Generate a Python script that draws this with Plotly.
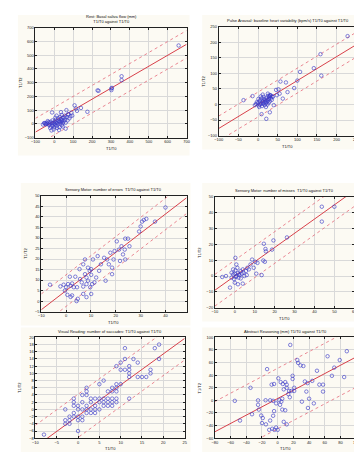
import plotly.graph_objects as go

# ---------------- data ----------------
titles = [
    "Rest: Basal saliva flow (mm)<br>T1/T0 against T1/T0",
    "Pulse Arousal: baseline heart variability (bpm/s) T1/T0 against T1/T0",
    "Sensory Motor: number of errors  T1/T0 against T1/T0",
    "Sensory Motor: number of misses  T1/T0 against T1/T0",
    "Visual Reading: number of saccades: T1/T0 against T1/T0",
    "Abstract Reasoning (mm) T1/T0 against T1/T0",
]
x_titles = ["T1/T0"] * 6
y_titles = ["T1/T2"] * 6

p1_x = [658, 356, 356, 302, 302, 305, 234, 229, 175, 141, 115, 107, 64, 73, 56, 39, -12, -15, -3, -54, -46, 39,
        -50, -45, -40, -35, -30, -28, -25, -20, -18, -12, -10, -8, -5, 0, 2, 5, 8, 10, 12, 15, 18, 20, 22, 25,
        28, 30, 32, 35, 38, 40, 42, 45, 48, 50, 55, 58, 60, 65, 70, 75, 80, 85, 90, -60, -22, 5, 15, 25, 0,
        -10, 30, 45, 60, -35, 12, 35, 120, 95]
p1_y = [571, 347, 319, 258, 246, 262, 241, 244, 88, 116, 112, 135, 100, 69, 46, 65, 83, -48, -41, 6, 0, 22,
        5, -3, 8, 0, 12, -8, 3, 15, -20, 5, 25, -10, 8, 0, 18, -5, 30, 10, -15, 5, 22, -2, 40, 12,
        -25, 20, 2, 35, 15, -10, 28, 5, 45, 18, 60, 30, 8, 48, 25, 70, 40, 55, 80, -5, -30, 45, -30, -45, -25,
        -15, 50, -20, -35, 20, 60, 85, 95, 60]

p2_x = [228, 159, 161, 142, 107, 100, 92, 71, 57, 52, 46, 63, -37, -14, 9, 21, 30, 40, 75, 55, 48, 38,
        0, 2, 4, 5, 6, 8, 9, 10, 11, 12, 13, 14, 15, 16, 17, 18, 19, 20, 21, 22, 23, 24, 25, 26, 27, 28,
        29, 30, 32, 33, 35, 36, -5, -3, 1, 7, -8, 3, 12, 20, 25, 30, 31, 29]
p2_y = [220, 162, 93, 117, 105, 77, 53, 71, 74, 49, 47, 19, 14, 27, -31, -46, -25, -2, 40, 35, 30, 25,
        5, -3, 10, 0, 15, 3, 20, -5, 8, 12, 2, 25, 6, 18, -2, 10, 14, 4, 22, 8, 16, 0, 12, 28, 6, 18,
        24, 10, 30, 20, 15, 26, 2, 8, 18, 26, -2, -8, 32, -8, 35, 30, 28, 26]

p3_x = [-6.5, -2.3, -1.0, 0.0, 0.8, 1.5, 1.8, 2.4, 3.1, 3.7, 0.5, 2.4, 4.4, 4.7, 5.6, 6.3, 6.9, 5.4, 6.9,
        7.6, 7.6, 8.2, 8.2, 8.8, 8.8, 9.5, 9.7, 10.1, 10.5, 10.1, 11.4, 10.8, 12.1, 12.7, 13.3, 14.0, 15.3,
        15.9, 16.5, 17.2, 17.8, 18.5, 19.1, 19.5, 20.4, 21.3, 22.3, 22.9, 23.6, 23.8, 24.9, 25.5, 23.8,
        21.7, 29.4, 30.0, 30.6, 31.3, 32.3, 35.8, 40.0, 6.9, 8.2, 10.1, 18.5, 1.8, -0.5, 4.2]
p3_y = [7.8, 7.0, 7.8, 6.6, 8.1, 11.6, 7.3, 8.4, 6.6, 11.6, 3.0, 2.7, 6.6, 1.1, 10.5, 8.9, 6.9, 15.2, 17.5,
        19.8, 12.8, 11.2, 8.1, 9.7, 15.9, 14.4, 6.6, 12.5, 8.1, 15.2, 8.9, 19.8, 11.2, 21.4, 14.4, 17.5, 20.6,
        9.7, 19.8, 17.5, 23.0, 15.9, 19.8, 23.8, 28.4, 24.5, 26.1, 22.2, 24.5, 29.7, 29.7, 26.1, 19.8,
        19.1, 33.1, 35.5, 37.8, 38.6, 39.1, 37.8, 44.5, 3.4, 1.9, 3.4, 12.8, 2.0, 5.0, 0.0]

p4_x = [43.7, 50.0, 43.7, 26.2, 14.6, 19.4, 15.4, 15.6, 18.7, 14.3, 15.1, 11.4, 13.5, 10.8, 10.3, 7.9, 8.7,
        6.3, 0.3, 0.8, -6.3, -4.4, -1.6, -0.8, -0.3, 0.0, 0.8, 1.6, 1.9, 2.4, 2.9, 3.5, 4.0, 4.4, 4.8, 5.6,
        0.0, 1.6, 4.0, -2.4, 6.0, 7.1, 0.3, 1.3, -1.6, -0.8, 9.5, 3.0, 2.0, 0.5]
p4_y = [43.8, 43.8, 34.4, 24.4, 20.4, 22.5, 17.1, 15.6, 16.7, 9.8, 9.0, 8.3, 0.6, 1.5, 9.0, 7.3, 10.4,
        5.2, 11.5, 7.3, -0.6, 0.0, -1.0, 1.0, -2.0, 1.5, 0.0, 2.0, -1.0, 0.6, 3.1, 1.5, 4.2, 2.1, 0.0, 3.1,
        -4.2, -5.2, -4.8, -7.3, 0.6, 4.2, 3.5, 5.2, 2.1, 4.2, 5.2, -1.5, 1.0, -0.5]

p5_x = [-8, -3, -3, -3, -2, -2, -2, -1, -1, -1, -1, -1, 0, 0, 0, 0, 0, 1, 1, 1, 1, 1, 2, 2, 2, 2, 2, 2,
        3, 3, 3, 3, 4, 4, 4, 4, 5, 5, 5, 5, 6, 6, 6, 6, 7, 7, 7, 7, 8, 8, 8, 8, 8, 9, 9, 9, 9, 9, 9,
        10, 10, 10, 11, 11, 11, 12, 12, 12, 12, 12, 13, 14, 14, 15, 16, 17, 17, 18, 19, 19]
p5_y = [-7, 0, -3, -4, -2, -3, -4, -1, 2, 3, 1, -2, 0, 1, -2, -3, -6, -3, -2, 0, 4, 2, 6, 5, 4, 1, 0, -1,
        3, 2, 0, -1, 3, 1, 0, -1, 3, 2, 0, 7, 8, 3, 1, 2, 5, 3, 2, 1, 6, 5, 3, 2, 1, 6, 5, 3, 2, 7, 12,
        7, 11, 13, 17, 14, 11, 12, 11, 10, 9, 3, 14, 13, 9, 9, 9, 11, 10, 17, 18, 14]

p6_x = [-54.6, -48, -32.7, -25, -25, -24, -34.6, -13.5, -19, -21, -20, -15, -10.8, -7, -4, -2, 0, -9.6,
        -5.8, -4.6, -15.4, -9.6, -5.8, -2, 2, 4.6, 5.8, 3, 5.8, 9.6, 7.7, 11.5, -7.7, -4.6, 3.8, 6.5, 9.6,
        11.5, 11.5, 14.6, 13.5, 16, 19, 19, 17.3, 15.4, 21, 21, 26, 25, 29, 32.7, 34.6, 38, 36.5, 40, 30.8,
        38.5, 44, 50, 46, 53, 57.7, 57.7, 63.5, 69, 72, 79, 84.6, 88, 0.8, 7.7]
p6_y = [-0.7, -32, -22, -7, 0, -14.6, 20, 49.6, -28, -24, -36, -38, -46.7, -45, -46.7, -43, -46.7, -32,
        -24.4, -17, 0.2, 0.2, -0.7, -4.7, 0.2, -2, 2.7, -7, -14.6, -15.6, -34, -38, 25, 26, 29, 26, 29,
        25, 20, 15, 10, 88, 39, 34, 15, 5, 20, 15, 59.5, 64, 55.5, 54.5, 30, 27.4, 14, 2.7, -2,
        -12, 31, 47, -4.7, 25, 25, 14, 70, 39, 52, 64, 37, 78, 35, 17.5]

# fitted regression line and prediction band
fit_slopes = [0.80, 0.77, 0.91, 0.90, 0.86, 0.66]
fit_intercepts = [20, 0, 5, 0, -1.8, 3]
band_halfwidths = [100, 40, 7.5, 10, 6, 48]

x_ranges = [[-100, 700], [-100, 250], [-10, 48.5], [-10, 60], [-10, 25], [-80, 100]]
y_ranges = [[-100, 700], [-100, 250], [-5, 50], [-20, 50], [-8, 20], [-60, 100]]
x_dticks = [100, 50, 10, 10, 5, 20]
y_dticks = [100, 50, 5, 10, 2, 20]

# ---------------- layout geometry (pixels) ----------------
W, H = 362, 452
plot_boxes = [  # left, right, top, bottom in px
    (23, 178, 17, 128),
    (211, 352, 16, 126),
    (29, 178, 187, 304),
    (207, 350, 188, 300),
    (23, 176, 330, 432),
    (207, 352, 330, 432),
]
panel_boxes = [
    (5, 181, 4, 146),
    (194, 362, 4, 140),
    (8, 182, 174, 318),
    (194, 362, 174, 314),
    (8, 182, 320, 452),
    (194, 362, 320, 452),
]

xs_all = [p1_x, p2_x, p3_x, p4_x, p5_x, p6_x]
ys_all = [p1_y, p2_y, p3_y, p4_y, p5_y, p6_y]

fig = go.Figure()
layout = {}
annotations = []
shapes = []

for i in range(6):
    n = "" if i == 0 else str(i + 1)
    xa, ya = "x" + n, "y" + n
    l, r, t, b = plot_boxes[i]
    xd = [l / W, r / W]
    yd = [1 - b / H, 1 - t / H]
    axis_common = dict(
        showline=True, linecolor="#222", linewidth=0.8, mirror="ticks",
        ticks="inside", ticklen=2, tickcolor="#222", tickwidth=0.6,
        showgrid=True, gridcolor="#d9d9d9", gridwidth=0.6, zeroline=False,
        tickfont=dict(size=4, color="#222", family="Liberation Sans"),
    )
    layout["xaxis" + n] = dict(axis_common, domain=xd, range=x_ranges[i], dtick=x_dticks[i],
                               anchor=ya, tick0=0)
    layout["yaxis" + n] = dict(axis_common, domain=yd, range=y_ranges[i], dtick=y_dticks[i],
                               anchor=xa, tick0=0)

    # fit line and prediction band
    x0, x1 = x_ranges[i]
    s, c, h = fit_slopes[i], fit_intercepts[i], band_halfwidths[i]
    for off, dash, w, col in [(h, "dot", 0.8, "#e46a7a"), (-h, "dot", 0.8, "#e46a7a"), (0, "solid", 1.0, "#d8404a")]:
        fig.add_trace(go.Scatter(
            x=[x0, x1], y=[s * x0 + c + off, s * x1 + c + off], mode="lines",
            line=dict(color=col, width=w, dash=dash), xaxis=xa, yaxis=ya,
            showlegend=False, hoverinfo="skip", cliponaxis=True))

    fig.add_trace(go.Scatter(
        x=xs_all[i], y=ys_all[i], mode="markers", xaxis=xa, yaxis=ya, showlegend=False,
        marker=dict(symbol="circle-open", size=3.5, color="rgba(60,60,200,0.8)", line=dict(width=0.8)),
        cliponaxis=True))

    # titles
    annotations.append(dict(
        text=titles[i], xref="paper", yref="paper", x=(xd[0] + xd[1]) / 2, y=yd[1] + 1.5 / H,
        xanchor="center", yanchor="bottom", showarrow=False,
        font=dict(size=4, color="#111", family="Liberation Sans")))
    annotations.append(dict(
        text=x_titles[i], xref="paper", yref="paper", x=(xd[0] + xd[1]) / 2, y=yd[0] - 6 / H,
        xanchor="center", yanchor="top", showarrow=False,
        font=dict(size=4, color="#111", family="Liberation Sans")))
    annotations.append(dict(
        text=y_titles[i], xref="paper", yref="paper", x=xd[0] - 11 / W, y=(yd[0] + yd[1]) / 2,
        xanchor="right", yanchor="middle", textangle=-90, showarrow=False,
        font=dict(size=4, color="#111", family="Liberation Sans")))

    pl, pr, pt, pb = panel_boxes[i]
    shapes.append(dict(type="rect", xref="paper", yref="paper", x0=pl / W, x1=pr / W,
                       y0=1 - pb / H, y1=1 - pt / H, fillcolor="#fcfaf3", line=dict(width=0),
                       layer="below"))

fig.update_layout(
    width=W, height=H, margin=dict(l=0, r=0, t=0, b=0),
    paper_bgcolor="white", plot_bgcolor="white",
    annotations=annotations, shapes=shapes, showlegend=False,
    **layout,
)

fig.write_html("out.html")
